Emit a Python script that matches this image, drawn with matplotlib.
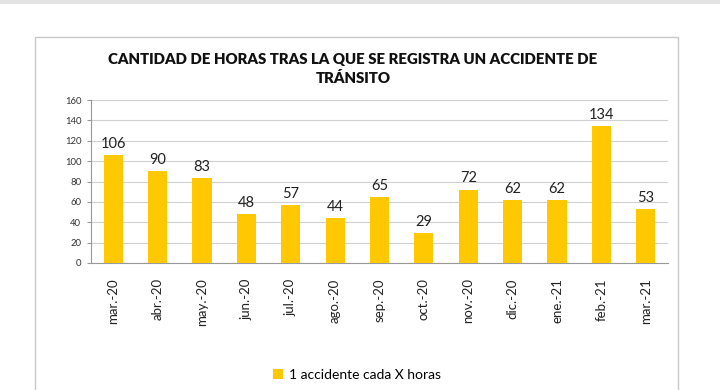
import matplotlib
matplotlib.use("Agg")
import matplotlib.pyplot as plt
from matplotlib.patches import Rectangle

categories = ["mar.-20", "abr.-20", "may.-20", "jun.-20", "jul.-20", "ago.-20",
              "sep.-20", "oct.-20", "nov.-20", "dic.-20", "ene.-21", "feb.-21", "mar.-21"]
values = [106, 90, 83, 48, 57, 44, 65, 29, 72, 62, 62, 134, 53]
yticks = [0, 20, 40, 60, 80, 100, 120, 140, 160]
series_name = "1 accidente cada X horas"
title = "CANTIDAD DE HORAS TRAS LA QUE SE REGISTRA UN ACCIDENTE DE\nTRÁNSITO"

plt.rcParams['font.family'] = ['Lato', 'DejaVu Sans']
W, H = 720, 390
fig = plt.figure(figsize=(W / 100, H / 100), dpi=100)
fig.patch.set_facecolor("white")

# top grey band
fig.patches.append(Rectangle((0, 1 - 4 / H), 1, 4 / H, transform=fig.transFigure,
                             facecolor="#e3e3e3", edgecolor="none", zorder=0))
# chart border
fig.patches.append(Rectangle((35 / W, -0.01), (678 - 35) / W, 1 - 37.5 / H + 0.01,
                             transform=fig.transFigure, facecolor="none",
                             edgecolor="#c8c8c8", linewidth=1.0, zorder=1))

ax = fig.add_axes([91 / W, 1 - 263 / H, (668 - 91) / W, (263 - 100) / H])
x = list(range(len(categories)))
bars = ax.bar(x, values, width=0.43, color="#FFC800", zorder=3, label=series_name)
ax.set_xlim(-0.5, len(categories) - 0.5)
ax.set_ylim(0, 160)
ax.set_yticks(yticks)
ax.set_yticklabels([str(t) for t in yticks], fontsize=6.8, color="#333333")
ax.set_xticks(x)
ax.set_xticklabels(categories, rotation=90, fontsize=9.5, color="#222222")
ax.tick_params(axis="x", length=0, pad=11)
ax.tick_params(axis="y", length=3, color="#999999", pad=4)
ax.grid(axis="y", color="#d0d0d0", linewidth=0.8, zorder=0)
for s in ["top", "right"]:
    ax.spines[s].set_visible(False)
for s in ["left", "bottom"]:
    ax.spines[s].set_color("#999999")
    ax.spines[s].set_linewidth(0.8)

for xi, v in zip(x, values):
    ax.annotate(str(v), (xi, v), xytext=(0, 3), textcoords="offset points",
                ha="center", va="bottom", fontsize=10.5, color="#222222")

fig.text(353 / W, 1 - 69 / H, title, ha="center", va="center", fontsize=10.8,
         fontweight="heavy", color="#111111", linespacing=1.4)

leg = fig.legend(handles=[bars], labels=[series_name], loc="center",
                 bbox_to_anchor=(357 / W, 1 - 375 / H), frameon=False,
                 fontsize=10, handlelength=0.7, handleheight=0.7, handletextpad=0.4)

fig.savefig("out.png", dpi=100)
